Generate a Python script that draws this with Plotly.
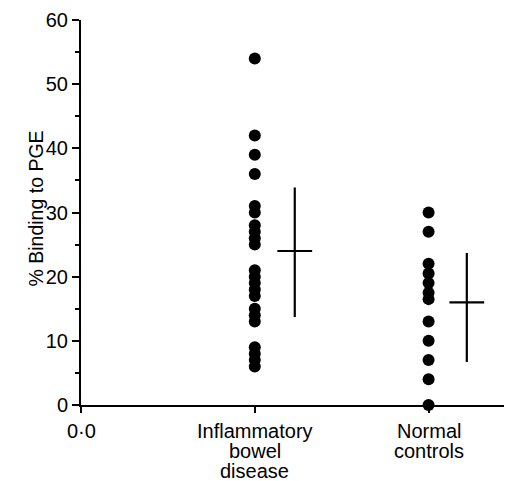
import plotly.graph_objects as go

# Data
group_pos = [1, 2]
group_labels = [["Inflammatory", "bowel", "disease"], ["Normal", "controls"]]
ibd_values = [54, 42, 39, 36, 31, 30, 28, 27, 26, 25, 21, 20, 19, 18, 17, 15, 14, 13, 9, 8, 7, 6]
nc_values = [30, 27, 22, 20.5, 19, 17.5, 16.5, 13, 10, 7, 4, 0]
cross_pos = [1.23, 2.22]
cross_mean = [24, 16]
cross_high = [33.9, 23.7]
cross_low = [13.7, 6.7]
cross_half = 0.1

x_ticks = [0, 1, 2]
x_zero_label = "0·0"
y_ticks = [0, 10, 20, 30, 40, 50, 60]
y_title = "% Binding to PGE"

FONT = "Liberation Sans, Arial, sans-serif"
FS = 20

fig = go.Figure()
for pos, vals in zip(group_pos, [ibd_values, nc_values]):
    fig.add_trace(go.Scatter(
        x=[pos] * len(vals), y=vals, mode="markers",
        marker=dict(color="black", size=12, line=dict(width=0)),
        cliponaxis=False, showlegend=False, hoverinfo="y"))

cx, cy = [], []
for p, m, hi, lo in zip(cross_pos, cross_mean, cross_high, cross_low):
    cx += [p - cross_half, p + cross_half, None, p, p, None]
    cy += [m, m, None, hi, lo, None]
fig.add_trace(go.Scatter(x=cx, y=cy, mode="lines",
                         line=dict(color="black", width=2.2),
                         showlegend=False, hoverinfo="skip"))

# x tick labels as line-by-line annotations (tight line spacing as in reference)
all_labels = [[x_zero_label]] + group_labels
for pos, lines in zip(x_ticks, all_labels):
    for i, line in enumerate(lines):
        fig.add_annotation(x=pos, xref="x", y=0, yref="paper",
                           yanchor="top", xanchor="center",
                           yshift=-13 - 20 * i, showarrow=False, text=line,
                           font=dict(family=FONT, size=FS, color="black"))

# y-axis title placed close to the tick labels
fig.add_annotation(x=0, xref="paper", y=0.5, yref="paper",
                   xanchor="center", yanchor="middle", xshift=-46, yshift=4,
                   textangle=-90, showarrow=False, text=y_title,
                   font=dict(family=FONT, size=19.5, color="black"))

fig.update_layout(
    width=504, height=473,
    margin=dict(l=73, r=0, t=12, b=76),
    paper_bgcolor="white", plot_bgcolor="white",
    font=dict(family=FONT, size=FS, color="black"),
)
fig.update_xaxes(
    range=[0, 2.48], tickvals=x_ticks, showticklabels=False, automargin=False,
    showgrid=False, zeroline=False, showline=True, linecolor="black", linewidth=2,
    ticks="outside", ticklen=6, tickwidth=2, tickcolor="black",
)
fig.update_yaxes(
    range=[0, 60], tickvals=y_ticks, automargin=False,
    showgrid=False, zeroline=False, showline=True, linecolor="black", linewidth=2,
    ticks="outside", ticklen=7, tickwidth=2, tickcolor="black",
    minor=dict(dtick=5, ticks="outside", ticklen=4, tickwidth=2, tickcolor="black", showgrid=False),
    tickfont=dict(family=FONT, size=FS, color="black"),
)

fig.write_html("out.html")
